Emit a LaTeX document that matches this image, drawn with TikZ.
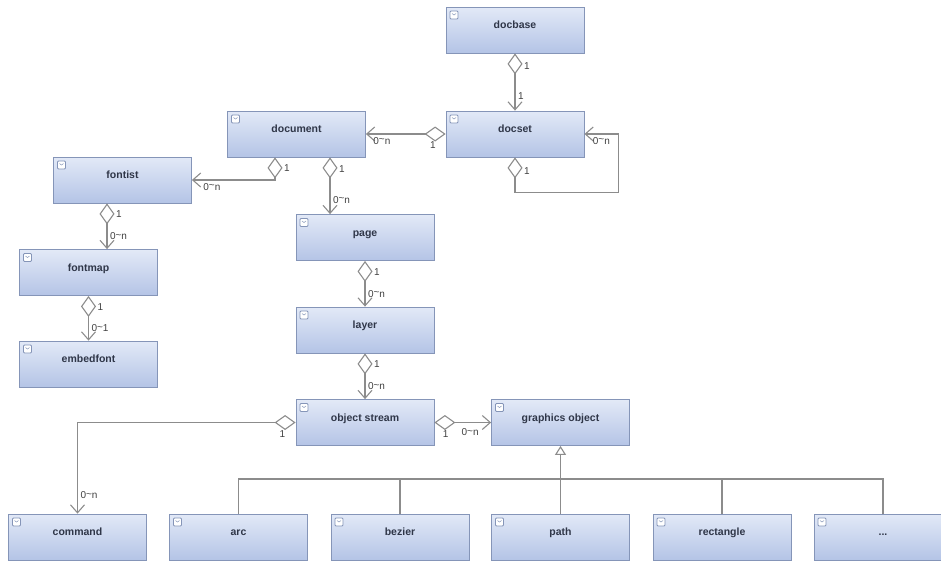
\documentclass[tikz,border=0pt]{standalone}
\usepackage{fontspec}
\setmainfont{Liberation Sans}
\usetikzlibrary{arrows.meta}

\definecolor{boxtop}{HTML}{E2E9F7}
\definecolor{boxbot}{HTML}{B4C4E6}
\definecolor{boxline}{HTML}{8595B8}
\definecolor{boxtext}{HTML}{2F3648}
\definecolor{conn}{HTML}{8C8C8C}

\newcommand{\many}{0\raisebox{1.5pt}{\textasciitilde}n}

\begin{document}
\begin{tikzpicture}[x=1pt,y=-1pt]

% Define block styles
\tikzstyle{block} = [rectangle, draw=boxline, line width=0.8pt, top color=boxtop, bottom color=boxbot, minimum width=138pt, minimum height=46pt, text height=7.5pt, text depth=10pt, font=\bfseries\fontsize{10.5}{12}\selectfont, text=boxtext,
  path picture={\draw[boxline, fill=white, rounded corners=1pt] ([shift={(4pt,-4pt)}]path picture bounding box.north west) rectangle ++(8pt,-8pt);
    \draw[boxline, line width=0.5pt] ([shift={(6pt,-6.5pt)}]path picture bounding box.north west) -- ++(2pt,-1.5pt) -- ++(2pt,1.5pt);}]
\tikzstyle{line} = [draw=conn, line width=1.1pt]
\tikzstyle{agg} = [line, {Diamond[open,length=21pt,width=15pt]}-{Straight Barb[length=8pt,width=14pt]}]
\tikzstyle{inherit} = [line, -{Triangle[open,length=9pt,width=11pt,fill=white]}]
\tikzstyle{mult} = [font=\fontsize{10}{11}\selectfont, text=black!75, inner sep=2.5pt]

\useasboundingbox (0,0) rectangle (941,560);
\clip (0,0) rectangle (941,560);

% Nodes
\node (docbase) [block] at (515,30) {docbase};
\node (docset) [block] at (515,134) {docset};
\node (document) [block] at (296.5,134) {document};
\node (fontist) [block] at (122.5,180) {fontist};
\node (fontmap) [block] at (88.5,272.5) {fontmap};
\node (embedfont) [block] at (88.5,364) {embedfont};
\node (page) [block] at (365,237.5) {page};
\node (layer) [block] at (365,330) {layer};
\node (ostream) [block] at (365,422.5) {object stream};
\node (gobject) [block] at (560.5,422.5) {graphics object};
\node (command) [block] at (77.5,537) {command};
\node (arc) [block] at (238.5,537) {arc};
\node (bezier) [block] at (400,537) {bezier};
\node (path) [block] at (560.5,537) {path};
\node (rect) [block] at (722,537) {rectangle};
\node (etc) [block] at (883,537) {...};
\coordinate (bus) at (560.5,479);

% Arrows
\draw [agg] (docbase) -- node[mult,pos=.22,right=6pt]{1} node[mult,pos=.74,right]{1} (docset);
\draw [agg] (docset) -- node[mult,pos=.16,below=5pt]{1} node[mult,pos=.8,below]{\many} (document);
\draw [agg] (docset.south) -- node[mult,pos=.4,right=6pt]{1} ++(0,35) -| ([xshift=34pt]docset.east) -- node[mult,pos=.5,below]{\many} (docset.east);
\draw [agg] ([xshift=-21.5pt]document.south) |- node[mult,pos=.24,right=6pt]{1} node[mult,pos=.88,below]{\many} (fontist.east);
\draw [agg] ([xshift=33.5pt]document.south) -- node[mult,pos=.2,right=6pt]{1} node[mult,pos=.75,right]{\many} ([xshift=33.5pt]document.south |- page.north);
\draw [agg] ([xshift=-15.5pt]fontist.south) -- node[mult,pos=.24,right=6pt]{1} node[mult,pos=.72,right]{\many} ([xshift=-15.5pt]fontist.south |- fontmap.north);
\draw [agg] (fontmap) -- node[mult,pos=.24,right=6pt]{1} node[mult,pos=.72,right]{0\raisebox{1.5pt}{\textasciitilde}1} (embedfont);
\draw [agg] (page) -- node[mult,pos=.24,right=6pt]{1} node[mult,pos=.72,right]{\many} (layer);
\draw [agg] (layer) -- node[mult,pos=.24,right=6pt]{1} node[mult,pos=.72,right]{\many} (ostream);
\draw [agg] (ostream.west) -| node[mult,pos=.03,below=5pt]{1} node[mult,pos=.9,right]{\many} (command.north);
\draw [agg] (ostream) -- node[mult,pos=.2,below=5pt]{1} node[mult,pos=.63,below=3pt]{\many} (gobject);

% Inheritance
\draw [line] (arc.north) |- (bus) -| (etc.north);
\draw [line] (bezier.north) -- (bezier.north |- bus);
\draw [line] (rect.north) -- (rect.north |- bus);
\draw [inherit] (path) -- (gobject);

\end{tikzpicture}
\end{document}
